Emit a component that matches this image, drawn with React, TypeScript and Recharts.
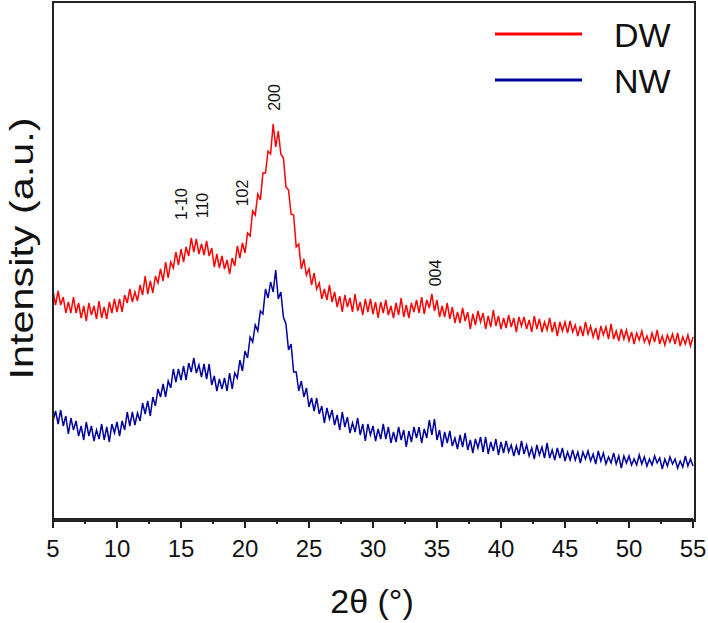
import React from 'react';
import { LineChart, Line, XAxis, YAxis, ReferenceDot, Legend } from 'recharts';

// Sampling grid of the diffractogram (2θ, degrees)
const ANGLE_START = 5;
const ANGLE_STEP = 0.2;

// DW intensity (arbitrary units)
const DW = [
  228,214,228,214,222,206,217,206,222,206,216,201,213,198,216,204,213,200,218,201,212,200,217,206,220,
  207,220,207,224,216,230,217,227,218,234,224,243,225,238,226,243,236,250,238,257,241,257,251,267,254,
  270,257,272,263,281,267,280,265,275,264,278,263,271,252,265,251,263,250,259,245,261,253,273,261,276,
  266,286,283,308,304,325,319,346,346,368,365,395,372,388,365,361,332,329,305,304,272,275,250,260,244,
  250,234,246,230,236,220,230,219,234,217,227,212,223,207,224,212,221,207,225,208,217,204,220,207,220,
  205,217,201,217,206,219,204,213,201,216,204,221,202,214,201,216,207,219,206,222,205,219,211,225,208,
  219,202,213,202,216,200,212,196,207,196,211,198,207,190,205,194,208,197,206,190,203,192,209,193,203,
  190,201,191,204,192,201,187,202,193,202,190,199,187,203,190,200,187,197,189,201,187,197,183,197,188,
  197,186,198,187,194,183,193,183,197,185,193,182,191,179,193,184,192,180,195,180,188,178,190,180,189,
  178,187,175,186,179,188,177,183,175,186,177,189,175,183,174,184,177,185,175,186,173,182,175,184,173,
  182,
];

// NW intensity (arbitrary units)
const NW = [
  98,108,95,109,93,103,85,101,89,98,83,93,79,97,83,93,78,89,80,95,79,92,77,95,86,
  97,83,98,89,107,93,107,94,106,98,116,105,118,103,122,113,130,122,135,122,138,131,150,137,150,
  139,153,139,156,147,161,146,154,142,155,140,155,134,143,128,140,130,141,128,146,130,146,141,159,148,
  168,161,182,177,194,188,208,205,230,221,237,227,249,220,227,202,195,169,175,147,147,128,138,122,131,
  112,121,108,121,105,113,96,111,100,109,94,104,89,107,92,102,86,96,87,101,84,95,78,95,84,
  93,78,90,80,95,80,92,76,87,77,92,79,89,72,88,77,92,81,92,76,90,81,99,84,100,
  79,89,72,87,76,88,73,81,70,84,72,86,69,79,66,80,71,82,67,82,65,77,68,80,64,
  77,66,78,67,74,63,73,64,78,65,74,63,71,60,74,64,72,61,76,61,69,59,71,61,71,
  58,67,59,69,59,67,56,67,60,68,58,65,55,68,58,66,55,62,56,66,55,63,51,63,56,
  63,54,60,54,64,55,62,53,60,54,63,56,61,50,60,53,62,55,60,51,58,52,63,53,60,
  53,
];

const MAJOR_TICKS = [5, 10, 15, 20, 25, 30, 35, 40, 45, 50, 55];
const MINOR_TICKS = [7.5, 12.5, 17.5, 22.5, 27.5, 32.5, 37.5, 42.5, 47.5, 52.5];
const ALL_TICKS = [...MAJOR_TICKS, ...MINOR_TICKS].sort((a, b) => a - b);

const X_DOMAIN = [5, 55];
const Y_DOMAIN = [0, 517];

// Peak annotations (Miller indices)
const PEAK_LABELS = ['1-10', '110', '102', '200', '004'];
const PEAK_X = [15.47, 17.11, 20.23, 22.73, 35.31];
const PEAK_Y = [315, 313.5, 326, 421.5, 246];

const SERIES = [
  { key: 'dw', name: 'DW', color: '#ff0000' },
  { key: 'nw', name: 'NW', color: '#00009f' },
];

const FONT = '"Liberation Sans", Arial, sans-serif';
const AXIS_COLOR = '#222222';

// Chart layout
const CHART_W = 708;
const CHART_H = 623;
const Y_AXIS_W = 53;
const X_AXIS_H = 104;
const MARGIN = { top: 2, right: 15, bottom: 0, left: 0 };
const PLOT_W = CHART_W - MARGIN.left - MARGIN.right - Y_AXIS_W;
const PLOT_H = CHART_H - MARGIN.top - MARGIN.bottom - X_AXIS_H;

const data = DW.map((v, i) => ({
  angle: Math.round((ANGLE_START + i * ANGLE_STEP) * 10) / 10,
  dw: v,
  nw: NW[i],
}));

function AngleTick(props: any) {
  const { x, y, payload } = props;
  const v = payload.value;
  const major = MAJOR_TICKS.includes(v);
  return (
    <g>
      <line x1={x} x2={x} y1={y} y2={y + (major ? 9 : 5)} stroke={AXIS_COLOR} strokeWidth={2} />
      {major && (
        <text x={x} y={y + 38} textAnchor="middle" fontSize={24} fontFamily={FONT} fill="#111">
          {String(v)}
        </text>
      )}
    </g>
  );
}

function XLabel(props: any) {
  const vb = props.viewBox;
  return (
    <text x={vb.x + vb.width / 2 - 1} y={vb.y + 94} textAnchor="middle" fontSize={34} fontFamily={FONT} fill="#111">
      2θ (°)
    </text>
  );
}

function YLabel(props: any) {
  const vb = props.viewBox;
  const cx = 33;
  const cy = vb.y + vb.height / 2 - 12;
  return (
    <text
      x={cx}
      y={cy}
      transform={`rotate(-90, ${cx}, ${cy})`}
      textAnchor="middle"
      fontSize={34}
      textLength={262}
      lengthAdjust="spacingAndGlyphs"
      fontFamily={FONT}
      fill="#111"
    >
      Intensity (a.u.)
    </text>
  );
}

function PeakText(label: string) {
  return (props: any) => {
    const { cx, cy } = props;
    return (
      <text x={cx} y={cy} transform={`rotate(-90, ${cx}, ${cy})`} textAnchor="middle" fontSize={16} fontFamily={FONT} fill="#111">
        {label}
      </text>
    );
  };
}

function LegendContent() {
  return (
    <div style={{ fontFamily: FONT }}>
      {SERIES.map((s) => (
        <div key={s.key} style={{ display: 'flex', alignItems: 'center', height: 46 }}>
          <svg width={87} height={6} style={{ display: 'block', marginTop: -3 }}>
            <line x1={0} x2={87} y1={3} y2={3} stroke={s.color} strokeWidth={3} />
          </svg>
          <span style={{ marginLeft: 32, fontSize: 34, lineHeight: '46px', color: '#111' }}>{s.name}</span>
        </div>
      ))}
    </div>
  );
}

export default function App() {
  return (
    <div style={{ position: 'absolute', left: 0, top: 0, width: CHART_W, height: CHART_H, background: '#fff' }}>
      <LineChart width={CHART_W} height={CHART_H} data={data} margin={MARGIN}>
        <XAxis
          dataKey="angle"
          type="number"
          domain={X_DOMAIN}
          ticks={ALL_TICKS}
          interval={0}
          height={X_AXIS_H}
          tickSize={0}
          tickMargin={0}
          tickLine={false}
          tick={<AngleTick />}
          axisLine={{ stroke: AXIS_COLOR, strokeWidth: 2 }}
          label={<XLabel />}
        />
        <YAxis
          type="number"
          domain={Y_DOMAIN}
          width={Y_AXIS_W}
          tick={false}
          tickLine={false}
          allowDataOverflow
          axisLine={{ stroke: AXIS_COLOR, strokeWidth: 2 }}
          label={<YLabel />}
        />
        <Legend
          layout="horizontal"
          verticalAlign="top"
          align="right"
          content={<LegendContent />}
          wrapperStyle={{ position: 'absolute', left: 495, top: 12, width: 200, height: 0, overflow: 'visible' }}
        />
        {SERIES.map((s) => (
          <Line
            key={s.key}
            type="linear"
            dataKey={s.key}
            name={s.name}
            stroke={s.color}
            strokeWidth={1.5}
            dot={false}
            isAnimationActive={false}
          />
        ))}
        {PEAK_LABELS.map((lab, i) => (
          <ReferenceDot
            key={lab}
            x={PEAK_X[i]}
            y={PEAK_Y[i]}
            r={0}
            ifOverflow="visible"
            shape={PeakText(lab)}
          />
        ))}
      </LineChart>
      {/* plot frame (box around the plotting area) */}
      <div
        style={{
          position: 'absolute',
          left: MARGIN.left + Y_AXIS_W - 1,
          top: MARGIN.top - 1,
          width: PLOT_W,
          height: PLOT_H,
          border: `2px solid ${AXIS_COLOR}`,
          boxSizing: 'content-box',
          pointerEvents: 'none',
          zIndex: 10,
        }}
      />
    </div>
  );
}
